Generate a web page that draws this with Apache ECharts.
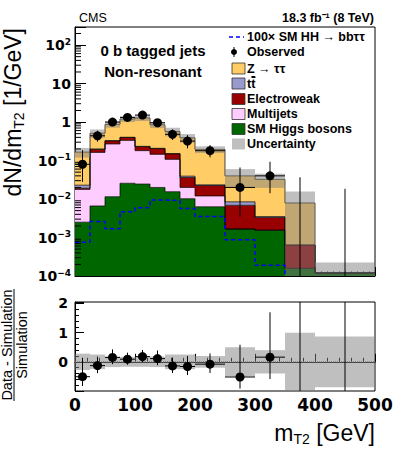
<!DOCTYPE html>
<html>
<head>
<meta charset="utf-8">
<script src="https://cdn.jsdelivr.net/npm/echarts@6/dist/echarts.min.js"></script>
<style>
  html, body { margin: 0; padding: 0; background: #fff; }
  #chart { width: 399px; height: 454px; }
</style>
</head>
<body>
<div id="chart"></div>
<script>
// bin edges of m_T2 [GeV]
const binEdges = [0, 25, 50, 75, 100, 125, 150, 175, 200, 250, 300, 350, 400, 500];

// simulated backgrounds, events / GeV (stacked bottom -> top)
const smHiggs     = [0.0025, 0.0066, 0.0115, 0.0257, 0.0245, 0.020, 0.0155, 0.0102, 0.0063, 0.00166, 0.00155, 0.000158, 0.00012];
const multijets   = [0.0153, 0.156, 0.258, 0.309, 0.156, 0.125, 0.092, 0.0098, 0.0057, 0, 0, 0, 0];
const electroweak = [0.0013, 0.033, 0.055, 0.063, 0.049, 0.059, 0.041, 0.0163, 0.0104, 0.0052, 0.00175, 0.00048, 0];
const ttbar       = [0.0038, 0.003, 0.004, 0.004, 0.004, 0.004, 0.004, 0.003, 0.001, 0.0016, 0.0002, 0, 0];
const ztautau     = [0.143, 0.315, 0.543, 0.80, 1.047, 0.642, 0.417, 0.351, 0.172, 0.0315, 0.029, 0.00726, 0];

// 100 x SM HH signal (dashed)
const hh100 = [7.5e-4, 2.6e-3, 1.7e-3, 4.7e-3, 5.9e-3, 9.4e-3, 9.2e-3, 5.7e-3, 3.5e-3, 8.7e-4, 1.9e-4, 3e-5, 3e-5];

// observed data and its error bar ends
const observed = [0.08, 0.44, 1.0, 1.32, 1.52, 0.96, 0.48, 0.32, 0.18, 0.02, 0.04, 0, 0];
const obsLow   = [0.028, 0.31, 0.80, 1.09, 1.27, 0.765, 0.343, 0.208, 0.121, 0.0035, 0.0142, 0, 0];
const obsHigh  = [0.186, 0.595, 1.24, 1.59, 1.81, 1.20, 0.64, 0.456, 0.252, 0.066, 0.093, 0.0368, 0.0184];

// relative uncertainty of the simulation
const relUnc = [0.28, 0.25, 0.18, 0.17, 0.17, 0.18, 0.25, 0.25, 0.2, 0.5, 0.4, 1.0, 0.87];

// (data - simulation) / simulation
const ratio = [-0.51, -0.13, 0.15, 0.09, 0.18, 0.11, -0.14, -0.16, -0.08, -0.52, 0.16, -1, -1];

const Y_MIN = 1e-4, Y_MAX = 295;
const R_MIN = -1, R_MAX = 2.05;
const nBins = binEdges.length - 1;

const comps = [
  { vals: smHiggs, color: "#006600" },
  { vals: multijets, color: "#ffccff" },
  { vals: electroweak, color: "#990000" },
  { vals: ttbar, color: "#9999cc" },
  { vals: ztautau, color: "#ffcc66" }
];

const series = [];

function rectRender(color, yMin, yMax) {
  return function (params, api) {
    const lo = Math.min(Math.max(api.value(2), yMin), yMax);
    const hi = Math.min(Math.max(api.value(3), yMin), yMax);
    if (hi <= lo) return;
    const a = api.coord([api.value(0), hi]);
    const b = api.coord([api.value(1), lo]);
    return {
      type: "rect",
      shape: { x: a[0], y: a[1], width: b[0] - a[0], height: b[1] - a[1] },
      style: { fill: color }
    };
  };
}

function stepData(vals) {
  return binEdges.map((e, i) => [e, vals[Math.min(i, nBins - 1)]]);
}

// stacked histograms
let base = new Array(nBins).fill(0);
comps.forEach((c) => {
  const top = base.map((b, i) => b + c.vals[i]);
  series.push({
    type: "custom",
    xAxisIndex: 0,
    yAxisIndex: 0,
    z: 2,
    silent: true,
    encode: { x: [0, 1], y: [2, 3] },
    data: top.map((t, i) => [binEdges[i], binEdges[i + 1], Math.max(base[i], Y_MIN), t]),
    renderItem: rectRender(c.color, Y_MIN, Y_MAX)
  });
  series.push({
    type: "line",
    xAxisIndex: 0,
    yAxisIndex: 0,
    z: 3,
    step: "end",
    symbol: "none",
    silent: true,
    lineStyle: { color: "#000", width: 1, opacity: 0.7 },
    data: stepData(top)
  });
  base = top;
});
const total = base;

// uncertainty band, main panel
series.push({
  type: "custom",
  xAxisIndex: 0,
  yAxisIndex: 0,
  z: 4,
  silent: true,
  encode: { x: [0, 1], y: [2, 3] },
  data: total.map((t, i) => [binEdges[i], binEdges[i + 1], t * (1 - relUnc[i]), t * (1 + relUnc[i])]),
  renderItem: rectRender("rgba(128,128,128,0.5)", Y_MIN, Y_MAX)
});

// HH signal
series.push({
  type: "line",
  xAxisIndex: 0,
  yAxisIndex: 0,
  z: 5,
  step: "end",
  symbol: "none",
  silent: true,
  lineStyle: { color: "#0000ff", width: 1.5, type: [4, 3] },
  data: stepData(hh100)
});

function pointRender(yMin, yMax) {
  return function (params, api) {
    const x0 = api.value(0), x1 = api.value(1), v = api.value(2);
    const xc = (x0 + x1) / 2;
    const clamp = (y) => Math.min(Math.max(y, yMin), yMax);
    const kids = [];
    const p = api.coord([xc, clamp(api.value(3))]);
    const q = api.coord([xc, clamp(api.value(4))]);
    kids.push({ type: "line", shape: { x1: p[0], y1: p[1], x2: q[0], y2: q[1] }, style: { stroke: "#000", lineWidth: 1 } });
    if (params.dataIndex < 11) {
      const a = api.coord([x0, v]);
      const b = api.coord([x1, v]);
      kids.push({ type: "line", shape: { x1: a[0], y1: a[1], x2: b[0], y2: b[1] }, style: { stroke: "#000", lineWidth: 1 } });
      const c = api.coord([xc, v]);
      kids.push({ type: "circle", shape: { cx: c[0], cy: c[1], r: 4.5 }, style: { fill: "#000" } });
    }
    return { type: "group", children: kids };
  };
}

// observed points, main panel
series.push({
  type: "custom",
  xAxisIndex: 0,
  yAxisIndex: 0,
  z: 6,
  silent: true,
  encode: { x: [0, 1], y: [2, 3, 4] },
  data: observed.map((v, i) => [binEdges[i], binEdges[i + 1], v > 0 ? v : Y_MIN, obsLow[i] > 0 ? obsLow[i] : Y_MIN, obsHigh[i]]),
  renderItem: pointRender(Y_MIN, Y_MAX)
});

// log minor ticks on the main y axis
const minorVals = [];
for (let k = -4; k <= 2; k++) {
  for (let m = 2; m <= 9; m++) {
    const v = m * Math.pow(10, k);
    if (v < Y_MAX) minorVals.push([0, v]);
  }
}
series.push({
  type: "custom",
  xAxisIndex: 0,
  yAxisIndex: 0,
  z: 7,
  silent: true,
  data: minorVals,
  renderItem: function (params, api) {
    const p = api.coord([0, api.value(1)]);
    return { type: "line", shape: { x1: p[0], y1: p[1], x2: p[0] + 6, y2: p[1] }, style: { stroke: "#000", lineWidth: 1 } };
  }
});

// ratio panel: band
series.push({
  type: "custom",
  xAxisIndex: 1,
  yAxisIndex: 1,
  z: 2,
  silent: true,
  encode: { x: [0, 1], y: [2, 3] },
  data: relUnc.map((e, i) => [binEdges[i], binEdges[i + 1], -e, e]),
  renderItem: rectRender("rgba(128,128,128,0.5)", R_MIN, R_MAX)
});
series.push({
  type: "line",
  xAxisIndex: 1,
  yAxisIndex: 1,
  z: 3,
  symbol: "none",
  silent: true,
  lineStyle: { color: "#777", width: 1, type: "dotted" },
  data: [[0, 0], [500, 0]]
});
// ratio panel: points, error bars scaled from the data errors
series.push({
  type: "custom",
  xAxisIndex: 1,
  yAxisIndex: 1,
  z: 6,
  silent: true,
  encode: { x: [0, 1], y: [2, 3, 4] },
  data: ratio.map((r, i) => {
    const lo = observed[i] > 0 ? (1 + r) * obsLow[i] / observed[i] - 1 : -1;
    const hi = observed[i] > 0 ? (1 + r) * obsHigh[i] / observed[i] - 1 : R_MAX;
    return [binEdges[i], binEdges[i + 1], r, lo, hi];
  }),
  renderItem: pointRender(R_MIN, R_MAX)
});

function logLabel(v) {
  const l = Math.log10(v);
  const e = Math.round(l);
  if (Math.abs(l - e) > 0.02) return "";
  if (e === 0) return "{b|1}";
  if (e === 1) return "{b|10}";
  return "{b|10}{s|" + (e < 0 ? "\u2212" + (-e) : e) + "}";
}

const boldNum = { fontFamily: "DejaVu Sans", fontWeight: "bold", color: "#000" };

const option = {
  animation: false,
  backgroundColor: "#fff",
  grid: [
    { left: 75, top: 27, width: 300, height: 249, show: true, borderColor: "#000", borderWidth: 1, backgroundColor: "transparent" },
    { left: 75, top: 302, width: 300, height: 89, show: true, borderColor: "#000", borderWidth: 1, backgroundColor: "transparent" }
  ],
  xAxis: [
    {
      gridIndex: 0, type: "value", min: 0, max: 500, interval: 100,
      axisLine: { lineStyle: { color: "#000" } },
      axisTick: { inside: true, length: 9, lineStyle: { color: "#000" } },
      minorTick: { show: true, splitNumber: 10, length: 4.5, lineStyle: { color: "#000" } },
      axisLabel: { show: false },
      splitLine: { show: false }
    },
    {
      gridIndex: 1, type: "value", min: 0, max: 500, interval: 100,
      axisLine: { lineStyle: { color: "#000" } },
      axisTick: { inside: true, length: 8, lineStyle: { color: "#000" } },
      minorTick: { show: true, splitNumber: 5, length: 4, lineStyle: { color: "#000" } },
      axisLabel: Object.assign({ fontSize: 17, margin: 5 }, boldNum),
      splitLine: { show: false }
    }
  ],
  yAxis: [
    {
      gridIndex: 0, type: "log", logBase: 10, min: Y_MIN, max: Y_MAX, splitNumber: 7,
      axisLine: { lineStyle: { color: "#000" } },
      axisTick: { inside: true, length: 11, lineStyle: { color: "#000" } },
      axisLabel: {
        margin: 4,
        formatter: logLabel,
        rich: {
          b: Object.assign({ fontSize: 14, lineHeight: 16 }, boldNum),
          s: Object.assign({ fontSize: 9, lineHeight: 9, verticalAlign: "top" }, boldNum)
        }
      },
      splitLine: { show: false }
    },
    {
      gridIndex: 1, type: "value", min: R_MIN, max: R_MAX, interval: 1,
      axisLine: { lineStyle: { color: "#000" } },
      axisTick: { inside: true, length: 9, lineStyle: { color: "#000" } },
      minorTick: { show: true, splitNumber: 5, length: 4, lineStyle: { color: "#000" } },
      axisLabel: Object.assign({
        fontSize: 14, margin: 7,
        formatter: (v) => (v >= 0 && Math.abs(v - Math.round(v)) < 1e-6 ? String(v) : "")
      }, boldNum),
      splitLine: { show: false }
    }
  ],
  graphic: [
    { type: "text", x: 79, y: 17.5, style: { text: "CMS", font: '12.5px "Liberation Sans"', fill: "#000", textVerticalAlign: "middle" } },
    { type: "text", x: 374, y: 17.5, style: { text: "18.3 fb\u207B\u00B9 (8 TeV)", font: 'bold 12.5px "Liberation Sans"', fill: "#000", textAlign: "right", textVerticalAlign: "middle" } },
    { type: "text", x: 153, y: 50, style: { text: "0 b tagged jets", font: 'bold 15px "Liberation Sans"', fill: "#000", textAlign: "center", textVerticalAlign: "middle" } },
    { type: "text", x: 153, y: 71, style: { text: "Non-resonant", font: 'bold 15px "Liberation Sans"', fill: "#000", textAlign: "center", textVerticalAlign: "middle" } },

    // legend
    { type: "line", shape: { x1: 229, y1: 37, x2: 244, y2: 37 }, style: { stroke: "#0000ff", lineWidth: 1.5, lineDash: [4, 3] } },
    { type: "text", x: 247, y: 37, style: { text: "100\u00D7 SM HH \u2192 bb\u03C4\u03C4", font: 'bold 12.5px "Liberation Sans"', fill: "#000", textVerticalAlign: "middle" } },
    { type: "line", shape: { x1: 234, y1: 47, x2: 234, y2: 57 }, style: { stroke: "#000", lineWidth: 1 } },
    { type: "circle", shape: { cx: 234, cy: 52, r: 3 }, style: { fill: "#000" } },
    { type: "text", x: 247, y: 52, style: { text: "Observed", font: 'bold 12.5px "Liberation Sans"', fill: "#000", textVerticalAlign: "middle" } },
    { type: "rect", shape: { x: 232, y: 63, width: 13, height: 11 }, style: { fill: "#ffcc66", stroke: "#333", lineWidth: 0.8 } },
    { type: "text", x: 247, y: 68.5, style: { text: "Z \u2192 \u03C4\u03C4", font: 'bold 12.5px "Liberation Sans"', fill: "#000", textVerticalAlign: "middle" } },
    { type: "rect", shape: { x: 232, y: 78, width: 13, height: 11 }, style: { fill: "#9999cc", stroke: "#333", lineWidth: 0.8 } },
    { type: "text", x: 247, y: 83.5, style: { text: "tt\u0304", font: 'bold 12.5px "Liberation Sans"', fill: "#000", textVerticalAlign: "middle" } },
    { type: "line", shape: { x1: 251.5, y1: 77.5, x2: 255.5, y2: 77.5 }, style: { stroke: "#000", lineWidth: 1 } },
    { type: "rect", shape: { x: 232, y: 93.5, width: 13, height: 11 }, style: { fill: "#990000", stroke: "#333", lineWidth: 0.8 } },
    { type: "text", x: 247, y: 99, style: { text: "Electroweak", font: 'bold 12.5px "Liberation Sans"', fill: "#000", textVerticalAlign: "middle" } },
    { type: "rect", shape: { x: 232, y: 108.5, width: 13, height: 11 }, style: { fill: "#ffccff", stroke: "#333", lineWidth: 0.8 } },
    { type: "text", x: 247, y: 114, style: { text: "Multijets", font: 'bold 12.5px "Liberation Sans"', fill: "#000", textVerticalAlign: "middle" } },
    { type: "rect", shape: { x: 232, y: 123.5, width: 13, height: 11 }, style: { fill: "#006600", stroke: "#333", lineWidth: 0.8 } },
    { type: "text", x: 247, y: 129, style: { text: "SM Higgs bosons", font: 'bold 12.5px "Liberation Sans"', fill: "#000", textVerticalAlign: "middle" } },
    { type: "rect", shape: { x: 232, y: 138.5, width: 13, height: 11 }, style: { fill: "#bfbfbf" } },
    { type: "text", x: 247, y: 144, style: { text: "Uncertainty", font: 'bold 12.5px "Liberation Sans"', fill: "#000", textVerticalAlign: "middle" } },

    // axis titles
    {
      type: "text", x: 375, y: 433,
      style: {
        text: "{n|m}{s|T2}{n| [GeV]}", textAlign: "right", textVerticalAlign: "middle",
        rich: {
          n: { fontFamily: "Liberation Sans", fontSize: 23, lineHeight: 26, color: "#000" },
          s: { fontFamily: "Liberation Sans", fontSize: 14, lineHeight: 10, verticalAlign: "bottom", color: "#000" }
        }
      }
    },
    {
      type: "text", x: 13, y: 28, rotation: Math.PI / 2,
      style: {
        text: "{n|dN/dm}{s|T2}{n| [1/GeV]}", textAlign: "right", textVerticalAlign: "middle",
        rich: {
          n: { fontFamily: "Liberation Sans", fontSize: 23, lineHeight: 25, color: "#000" },
          s: { fontFamily: "Liberation Sans", fontSize: 14, lineHeight: 10, verticalAlign: "bottom", color: "#000" }
        }
      }
    },
    { type: "text", x: 7, y: 345, rotation: Math.PI / 2, style: { text: "Data - Simulation", font: '14.5px "Liberation Sans"', fill: "#000", textAlign: "center", textVerticalAlign: "middle" } },
    { type: "line", shape: { x1: 14, y1: 289, x2: 14, y2: 401 }, style: { stroke: "#000", lineWidth: 1 } },
    { type: "text", x: 22, y: 345, rotation: Math.PI / 2, style: { text: "Simulation", font: '14.5px "Liberation Sans"', fill: "#000", textAlign: "center", textVerticalAlign: "middle" } }
  ],
  series: series
};

const chart = echarts.init(document.getElementById("chart"), null, { renderer: "svg" });
chart.setOption(option);
</script>
</body>
</html>
